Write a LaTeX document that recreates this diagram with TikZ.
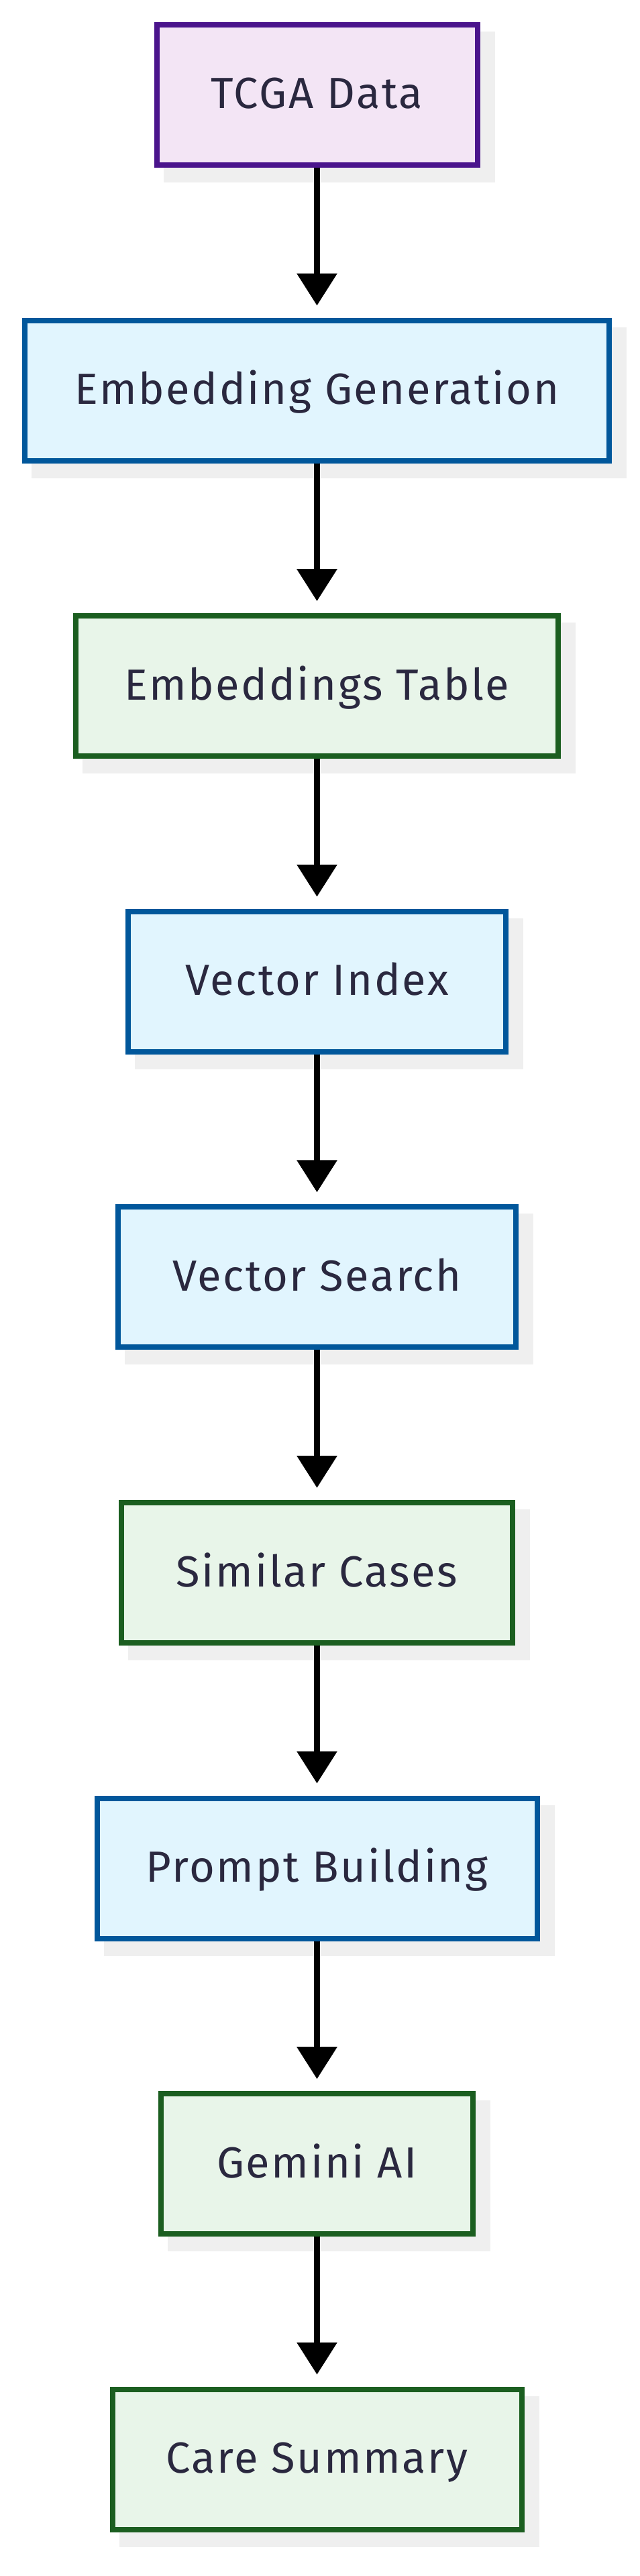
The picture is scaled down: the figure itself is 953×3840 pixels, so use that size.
\documentclass[tikz,border=0pt]{standalone}
\usepackage{fontspec}
\setmainfont{Fira Sans}[LetterSpace=4]
\usetikzlibrary{arrows.meta,backgrounds}
\definecolor{purplefill}{HTML}{F3E5F5}
\definecolor{purpleline}{HTML}{4A148C}
\definecolor{bluefill}{HTML}{E1F5FE}
\definecolor{blueline}{HTML}{01579B}
\definecolor{greenfill}{HTML}{E8F5E9}
\definecolor{greenline}{HTML}{1B5E20}
\definecolor{shadowgray}{HTML}{EFEFEF}
\definecolor{textcol}{HTML}{2A283F}
\begin{document}
\begin{tikzpicture}[x=1pt,y=1pt,
  box/.style={rectangle, line width=8pt, minimum height=209pt, inner sep=0pt,
    text height=41pt, text depth=0pt, font=\fontsize{65}{78}\selectfont, text=textcol},
  purplebox/.style={box, fill=purplefill, draw=purpleline},
  bluebox/.style={box, fill=bluefill, draw=blueline},
  greenbox/.style={box, fill=greenfill, draw=greenline},
  flow/.style={line width=9.5pt, -{Triangle[width=58pt,length=48pt]}, shorten >=18pt},
  shadowfill/.style={fill=shadowgray}
]
\useasboundingbox (0,0) rectangle (953,-3840);
\node[purplebox, minimum width=478pt] (b1) at (472.5,-141.5) {TCGA Data};
\node[bluebox, minimum width=871pt] (b2) at (472.5,-582.1) {Embedding Generation};
\node[greenbox, minimum width=719pt] (b3) at (472.5,-1022.7) {Embeddings Table};
\node[bluebox, minimum width=563pt] (b4) at (472.5,-1463.3) {Vector Index};
\node[bluebox, minimum width=593pt] (b5) at (472.5,-1903.9) {Vector Search};
\node[greenbox, minimum width=583pt] (b6) at (472.5,-2344.5) {Similar Cases};
\node[bluebox, minimum width=656pt] (b7) at (472.5,-2785.1) {Prompt Building};
\node[greenbox, minimum width=465pt] (b8) at (472.5,-3225.7) {Gemini AI};
\node[greenbox, minimum width=610pt] (b9) at (472.5,-3666.3) {Care Summary};
\begin{scope}[on background layer]
  \fill[white] (0,0) rectangle (953,-3840);
  \foreach \n in {b1,b2,b3,b4,b5,b6,b7,b8,b9}{
    \fill[shadowfill] ([shift={(14pt,-22pt)}]\n.south west) rectangle ([shift={(22pt,-14pt)}]\n.north east);
  }
\end{scope}
\draw[flow] (b1.south) -- (b2.north);
\draw[flow] (b2.south) -- (b3.north);
\draw[flow] (b3.south) -- (b4.north);
\draw[flow] (b4.south) -- (b5.north);
\draw[flow] (b5.south) -- (b6.north);
\draw[flow] (b6.south) -- (b7.north);
\draw[flow] (b7.south) -- (b8.north);
\draw[flow] (b8.south) -- (b9.north);
\end{tikzpicture}
\end{document}
